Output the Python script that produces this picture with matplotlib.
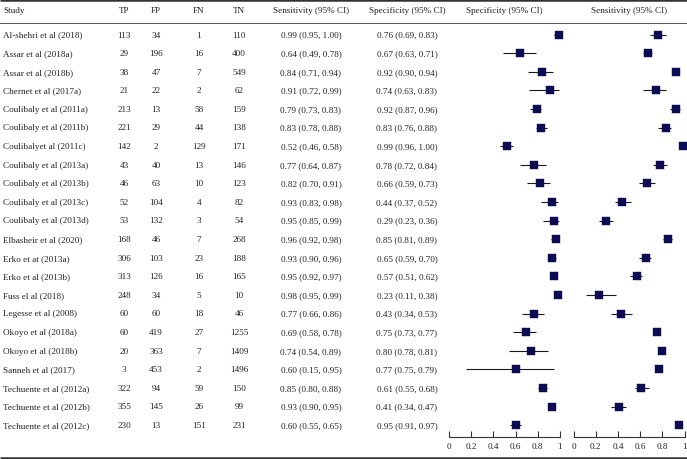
import matplotlib
matplotlib.use("Agg")
import matplotlib.pyplot as plt

studies = ["Al-shehri et al (2018)", "Assar et al (2018a)", "Assar et al (2018b)",
           "Chernet et al (2017a)", "Coulibaly et al (2011a)", "Coulibaly et al (2011b)",
           "Coulibalyet al (2011c)", "Coulibaly et al (2013a)", "Coulibaly et al (2013b)",
           "Coulibaly et al (2013c)", "Coulibaly et al (2013d)", "Elbasheir et al (2020)",
           "Erko et at (2013a)", "Erko et al (2013b)", "Fuss el al (2018)",
           "Legesse et al (2008)", "Okoyo et al (2018a)", "Okoyo et al (2018b)",
           "Sanneh et al (2017)", "Techuente et al (2012a)", "Techuente et al (2012b)",
           "Techuente et al (2012c)"]
TP = [113, 29, 38, 21, 213, 221, 142, 43, 46, 52, 53, 168, 306, 313, 248, 60, 60, 20, 3, 322, 355, 230]
FP = [34, 196, 47, 22, 13, 29, 2, 40, 63, 104, 132, 46, 103, 126, 34, 60, 419, 363, 453, 94, 145, 13]
FN = [1, 16, 7, 2, 58, 44, 129, 13, 10, 4, 3, 7, 23, 16, 5, 18, 27, 7, 2, 59, 26, 151]
TN = [110, 400, 549, 62, 159, 138, 171, 146, 123, 82, 54, 268, 188, 165, 10, 46, 1255, 1409, 1496, 150, 99, 231]

sens = [0.99, 0.64, 0.84, 0.91, 0.79, 0.83, 0.52, 0.77, 0.82, 0.93, 0.95, 0.96, 0.93, 0.95, 0.98,
        0.77, 0.69, 0.74, 0.60, 0.85, 0.93, 0.60]
sens_lo = [0.95, 0.49, 0.71, 0.72, 0.73, 0.78, 0.46, 0.64, 0.70, 0.83, 0.85, 0.92, 0.90, 0.92, 0.95,
           0.66, 0.58, 0.54, 0.15, 0.80, 0.90, 0.55]
sens_hi = [1.00, 0.78, 0.94, 0.99, 0.83, 0.88, 0.58, 0.87, 0.91, 0.98, 0.99, 0.98, 0.96, 0.97, 0.99,
           0.86, 0.78, 0.89, 0.95, 0.88, 0.95, 0.65]
spec = [0.76, 0.67, 0.92, 0.74, 0.92, 0.83, 0.99, 0.78, 0.66, 0.44, 0.29, 0.85, 0.65, 0.57, 0.23,
        0.43, 0.75, 0.80, 0.77, 0.61, 0.41, 0.95]
spec_lo = [0.69, 0.63, 0.90, 0.63, 0.87, 0.76, 0.96, 0.72, 0.59, 0.37, 0.23, 0.81, 0.59, 0.51, 0.11,
           0.34, 0.73, 0.78, 0.75, 0.55, 0.34, 0.91]
spec_hi = [0.83, 0.71, 0.94, 0.83, 0.96, 0.88, 1.00, 0.84, 0.73, 0.52, 0.36, 0.89, 0.70, 0.62, 0.38,
           0.53, 0.77, 0.81, 0.79, 0.68, 0.47, 0.97]

headers = ["Study", "TP", "FP", "FN", "TN", "Sensitivity (95% CI)", "Specificity (95% CI)",
           "Specificity (95% CI)", "Sensitivity (95% CI)"]
tick_vals = [0, 0.2, 0.4, 0.6, 0.8, 1]
tick_labels = ["0", "0.2", "0.4", "0.6", "0.8", "1"]

W, H = 687, 460
DPI = 100
plt.rcParams['font.family'] = ['Liberation Serif', 'DejaVu Serif']
FS = 6.6
TXT = '#231f20'
NAVY = '#0c0c52'

fig = plt.figure(figsize=(W / DPI, H / DPI), dpi=DPI)
bg = fig.add_axes([0, 0, 1, 1])
bg.set_xlim(0, W)
bg.set_ylim(H, 0)
bg.axis('off')

row0, dy = 35.5, 18.6
n = len(studies)
rows_px = [row0 + dy * i for i in range(n)]

# lines
bg.plot([0, W], [1, 1], color='#333333', lw=1.8, solid_capstyle='butt')
bg.plot([0, W], [23.5, 23.5], color='#555555', lw=0.7)
bg.plot([0, W], [458.5, 458.5], color='#333333', lw=1.8, solid_capstyle='butt')

# headers
hy = 11
col_x = [3, 124, 156, 199, 239, 311, 407, 504, 629]
for j, h in enumerate(headers):
    bg.text(col_x[j], hy, h, ha='left' if j == 0 else 'center', va='center',
            fontsize=FS, color=TXT)

for i in range(n):
    y = rows_px[i]
    bg.text(3, y, studies[i], ha='left', va='center', fontsize=FS, color=TXT)
    bg.text(col_x[1], y, str(TP[i]), ha='center', va='center', fontsize=FS, color=TXT)
    bg.text(col_x[2], y, str(FP[i]), ha='center', va='center', fontsize=FS, color=TXT)
    bg.text(col_x[3], y, str(FN[i]), ha='center', va='center', fontsize=FS, color=TXT)
    bg.text(col_x[4], y, str(TN[i]), ha='center', va='center', fontsize=FS, color=TXT)
    bg.text(col_x[5], y, f"{sens[i]:.2f} ({sens_lo[i]:.2f}, {sens_hi[i]:.2f})",
            ha='center', va='center', fontsize=FS, color=TXT)
    bg.text(col_x[6], y, f"{spec[i]:.2f} ({spec_lo[i]:.2f}, {spec_hi[i]:.2f})",
            ha='center', va='center', fontsize=FS, color=TXT)

# forest axes
axis_px = 437.5
top_px = 26
def make_ax(x0, x1):
    ax = fig.add_axes([x0 / W, 1 - axis_px / H, (x1 - x0) / W, (axis_px - top_px) / H])
    ax.set_xlim(0, 1)
    ylo = (axis_px - row0) / dy
    yhi = (top_px - row0) / dy
    ax.set_ylim(ylo, yhi)
    for s in ['top', 'left', 'right']:
        ax.spines[s].set_visible(False)
    ax.spines['bottom'].set_color('#333333')
    ax.spines['bottom'].set_linewidth(0.8)
    ax.set_yticks([])
    ax.set_xticks(tick_vals)
    ax.set_xticklabels(tick_labels)
    ax.tick_params(axis='x', direction='in', length=4, width=0.8, color='#333333',
                   labelsize=FS, labelcolor=TXT, pad=4)
    ax.patch.set_alpha(0)
    return ax

axL = make_ax(449, 560)
axR = make_ax(573.5, 684.5)
idx = list(range(n))
for ax, v, lo, hi in [(axL, sens, sens_lo, sens_hi), (axR, spec, spec_lo, spec_hi)]:
    ax.hlines(idx, lo, hi, color='#1a1a1a', lw=0.8, zorder=2)
    ax.plot(v, idx, ls='none', marker='s', ms=6.0, mfc=NAVY, mec=NAVY, mew=0.3, zorder=3,
            clip_on=False)

fig.savefig('out.png', dpi=DPI)
